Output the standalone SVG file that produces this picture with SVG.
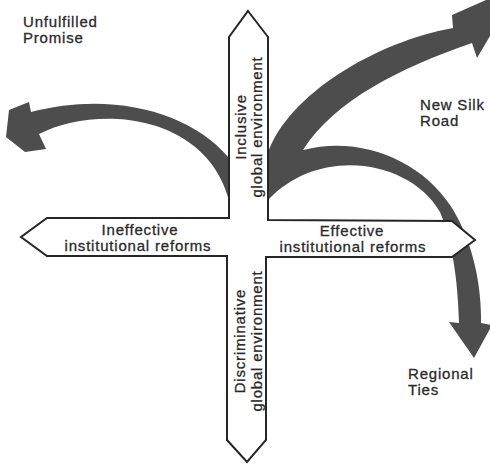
<svg xmlns="http://www.w3.org/2000/svg" width="490" height="464" viewBox="0 0 490 464">
<style>
.t{font-family:"Liberation Sans",Arial,sans-serif;font-size:15px;fill:#2a2a2a;stroke:#2a2a2a;stroke-width:0.3px;letter-spacing:0.8px}
.m{text-anchor:middle}
.arr{fill:#4d4d4d;stroke:none}
.bar{fill:#fff;stroke:#262626;stroke-width:2;stroke-linejoin:miter}
</style>
<rect width="490" height="464" fill="#fff"/>
<g id="connectors">
<path class="arr" d="M 236,158 L 229,158 C 190,111 110,91 31,112 L 29,102 L 9,110 L 6,137 L 25,152 L 46,149 L 39,134 C 95,105 205,112 229,200 L 236,200 Z"/>
<path class="arr" d="M 262,153 L 268,153 C 288,95 375,42 453,28 L 452,15 L 520,-15 L 477,58 L 472,43 C 400,68 335,100 303,150 C 360,135 420,160 450,205 C 470,235 482,280 481,323 L 492,325 L 474,358 L 449,322 L 459,323 C 458,280 452,240 440,212 C 410,160 320,145 268,200 L 262,200 Z"/>
</g>
<g id="cross">
<polygon class="bar" points="248,11 268,37 268,220 452,221 475,240 452,257 266,257 266,440 247,462 227,440 227,256 47,256 21,237 47,218 229,218 229,37"/>
</g>
<g id="inclusive">
<text class="t m" transform="translate(246,127) rotate(-90)"><tspan x="0" y="0">Inclusive</tspan><tspan x="0" y="16">global environment</tspan></text>
</g>
<g id="discriminative">
<text class="t m" transform="translate(245,341) rotate(-90)"><tspan x="0" y="0">Discriminative</tspan><tspan x="0" y="17">global environment</tspan></text>
</g>
<g id="ineffective">
<text class="t m"><tspan x="140" y="235">Ineffective</tspan><tspan x="138" y="251">institutional reforms</tspan></text>
</g>
<g id="effective">
<text class="t m"><tspan x="352" y="236">Effective</tspan><tspan x="353" y="252">institutional reforms</tspan></text>
</g>
<g id="unfulfilled">
<text class="t"><tspan x="23" y="27">Unfulfilled</tspan><tspan x="23" y="43">Promise</tspan></text>
</g>
<g id="silkroad">
<text class="t"><tspan x="420" y="110">New Silk</tspan><tspan x="420" y="126">Road</tspan></text>
</g>
<g id="regional">
<text class="t"><tspan x="408" y="379">Regional</tspan><tspan x="408" y="395">Ties</tspan></text>
</g>
</svg>
